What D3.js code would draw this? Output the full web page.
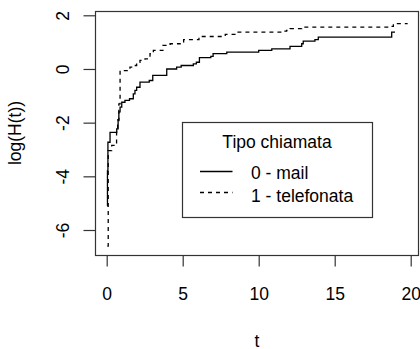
<!DOCTYPE html>
<html>
<head>
<meta charset="utf-8">
<script src="https://cdn.jsdelivr.net/npm/d3@7"></script>
<style>
  html, body { margin: 0; padding: 0; background: #fff; }
  svg { display: block; }
  text { font-family: "Liberation Sans", Arial, sans-serif; fill: #000; }
</style>
</head>
<body>
<svg id="chart" width="420" height="349"></svg>
<script>
// Data: step points (t, log H(t))
const mailT = [0.04, 0.05, 0.08, 0.22, 0.66, 0.75, 0.80, 0.88, 0.99, 1.20, 1.50, 1.75, 1.86, 1.97, 2.19, 2.80, 3.03, 3.95, 4.60, 4.90, 5.70, 5.90, 6.10, 6.85, 7.00, 7.90, 10.00, 10.86, 12.06, 12.83, 12.93, 13.70, 13.92, 18.75, 18.97];
const mailV = [-5.1, -3.8, -2.73, -2.36, -2.23, -1.92, -1.6, -1.42, -1.24, -1.17, -1.11, -0.93, -0.8, -0.68, -0.49, -0.43, -0.24, 0.0, 0.07, 0.13, 0.19, 0.25, 0.42, 0.47, 0.57, 0.63, 0.69, 0.75, 0.84, 0.94, 1.04, 1.09, 1.19, 1.37, 1.37];
const telT = [0.04, 0.10, 0.33, 0.55, 0.65, 0.72, 0.80, 0.88, 1.53, 1.75, 1.97, 2.19, 2.52, 2.74, 2.85, 3.07, 3.70, 4.17, 4.83, 5.06, 6.07, 7.80, 8.55, 11.50, 11.84, 12.06, 12.83, 18.64, 18.86, 19.80];
const telV = [-6.6, -3.04, -2.85, -2.8, -2.3, -1.9, -1.3, -0.06, 0.07, 0.13, 0.25, 0.32, 0.38, 0.44, 0.57, 0.69, 0.88, 0.94, 1.0, 1.09, 1.21, 1.29, 1.37, 1.41, 1.44, 1.5, 1.56, 1.59, 1.69, 1.69];
const xTicks = [0, 5, 10, 15, 20];
const yTicks = [-6, -4, -2, 0, 2];
const legendTitle = "Tipo chiamata";
const seriesNames = ["0 - mail", "1 - telefonata"];
const xLabel = "t";
const yLabel = "log(H(t))";

const svg = d3.select("#chart");
const box = { left: 95.5, right: 418.5, top: 11.5, bottom: 255.5 };
const x = d3.scaleLinear().domain([0, 20]).range([106.7, 410.7]);
const y = d3.scaleLinear().domain([-6, 2]).range([230, 15.3]);
const fs = 17.5;

// step line
const line = d3.line().x(d => x(d[0])).y(d => y(d[1])).curve(d3.curveStepAfter);
const mail = mailT.map((t, i) => [t, mailV[i]]);
const tel = telT.map((t, i) => [t, telV[i]]);

svg.append("path").attr("d", line(tel)).attr("fill", "none").attr("stroke", "#000")
  .attr("stroke-width", 1.3).attr("stroke-dasharray", "4,4");
svg.append("path").attr("d", line(mail)).attr("fill", "none").attr("stroke", "#000")
  .attr("stroke-width", 1.3);

// box
svg.append("rect").attr("x", box.left).attr("y", box.top)
  .attr("width", box.right - box.left).attr("height", box.bottom - box.top)
  .attr("fill", "none").attr("stroke", "#333").attr("stroke-width", 1.2);

// x axis
const xAxis = d3.axisBottom(x).tickValues(xTicks).tickSize(11).tickPadding(0).tickFormat(d3.format("d"));
const gx = svg.append("g").attr("transform", `translate(0,${box.bottom})`).call(xAxis);
gx.select(".domain").remove();
gx.selectAll(".tick line").attr("stroke", "#333").attr("stroke-width", 1.2);
gx.selectAll(".tick text").attr("y", 44.5).attr("dy", null)
  .style("font-size", fs + "px").style("font-family", "'Liberation Sans', Arial, sans-serif").attr("fill", "#000");

// y axis
const yAxis = d3.axisLeft(y).tickValues(yTicks).tickSize(12).tickFormat(d3.format("d"));
const gy = svg.append("g").attr("transform", `translate(${box.left},0)`).call(yAxis);
gy.select(".domain").remove();
gy.selectAll(".tick line").attr("stroke", "#333").attr("stroke-width", 1.2);
gy.selectAll(".tick text")
  .attr("x", null).attr("dy", null)
  .attr("text-anchor", "middle")
  .attr("transform", "translate(-27,0) rotate(-90)")
  .style("font-size", fs + "px").style("font-family", "'Liberation Sans', Arial, sans-serif").attr("fill", "#000")
  .replaceText = null;
gy.selectAll(".tick text").text(d => d3.format("d")(d).replace("−", "-"));
gx.selectAll(".tick text").text(d => String(d));

// axis labels
svg.append("text").attr("x", 257).attr("y", 346.5).attr("text-anchor", "middle")
  .style("font-size", fs + "px").text(xLabel);
svg.append("text").attr("transform", `translate(21,133) rotate(-90)`).attr("text-anchor", "middle")
  .style("font-size", fs + "px").text(yLabel);

// legend
const lg = { x0: 182.5, y0: 122.5, x1: 372.5, y1: 217.5 };
svg.append("rect").attr("x", lg.x0).attr("y", lg.y0).attr("width", lg.x1 - lg.x0).attr("height", lg.y1 - lg.y0)
  .attr("fill", "#fff").attr("stroke", "#333").attr("stroke-width", 1.2);
svg.append("text").attr("x", 277).attr("y", 147.5).attr("text-anchor", "middle")
  .style("font-size", fs + "px").text(legendTitle);
const rows = [{ y: 171.5, dash: null, ty: 179.3 }, { y: 192.5, dash: "4,4", ty: 202.3 }];
rows.forEach((r, i) => {
  svg.append("line").attr("x1", 200).attr("x2", 232.5).attr("y1", r.y).attr("y2", r.y)
    .attr("stroke", "#000").attr("stroke-width", 1.3).attr("stroke-dasharray", r.dash);
  svg.append("text").attr("x", 251).attr("y", r.ty).style("font-size", fs + "px").text(seriesNames[i]);
});
</script>
</body>
</html>
